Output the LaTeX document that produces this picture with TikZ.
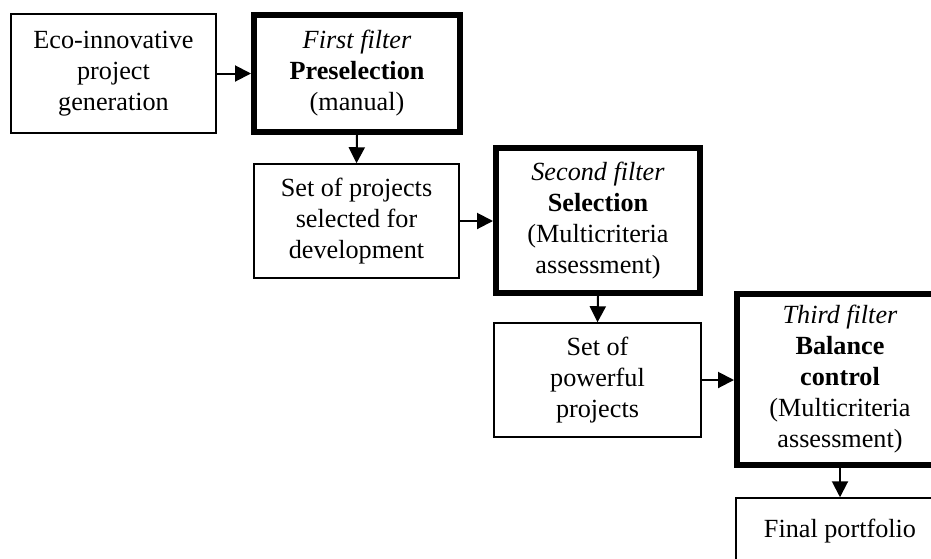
\documentclass[tikz,border=0pt]{standalone}
\usepackage{fontspec}
\setmainfont{Liberation Serif}
\usetikzlibrary{arrows.meta}
\begin{document}
\begin{tikzpicture}[x=0.5pt,y=-0.5pt,
  every node/.style={font=\fontsize{13.1}{15.5}\selectfont, align=center, inner sep=0pt},
  thinbox/.style={draw, line width=0.75pt},
  thickbox/.style={draw, line width=3pt},
  conn/.style={line width=1pt, -{Triangle[length=8pt,width=8pt]}}]
\clip (0,0) rectangle (931,558);
\node[thinbox, minimum width=102.5pt, minimum height=59.5pt] (b1) at (113.5,73.5) {Eco-innovative\\project\\generation};
\node[thickbox, minimum width=103pt, minimum height=58.5pt] (b2) at (357,73.5) {\textit{First filter}\\\textbf{Preselection}\\(manual)};
\node[thinbox, minimum width=102.5pt, minimum height=57pt] (b3) at (356.5,221) {Set of projects\\selected for\\development};
\node[thickbox, minimum width=102pt, minimum height=72.5pt] (b4) at (598,220.5) {\textit{Second filter}\\\textbf{Selection}\\(Multicriteria\\assessment)};
\node[thinbox, minimum width=103.5pt, minimum height=57pt] (b5) at (597.5,380) {Set of\\powerful\\projects};
\node[thickbox, minimum width=103pt, minimum height=85.5pt] (b6) at (840,379.5) {\textit{Third filter}\\\textbf{Balance}\\\textbf{control}\\(Multicriteria\\assessment)};
\node[thinbox, minimum width=104pt, minimum height=33pt] (b7) at (840,531) {Final portfolio};
\draw[conn] (b1.east) -- (b2.west);
\draw[conn] (b2.south) -- (b3.north);
\draw[conn] (b3.east) -- (b4.west |- b3.east);
\draw[conn] (b4.south) -- (b5.north);
\draw[conn] (b5.east) -- (b6.west |- b5.east);
\draw[conn] (b6.south) -- (b7.north);
\end{tikzpicture}
\end{document}
